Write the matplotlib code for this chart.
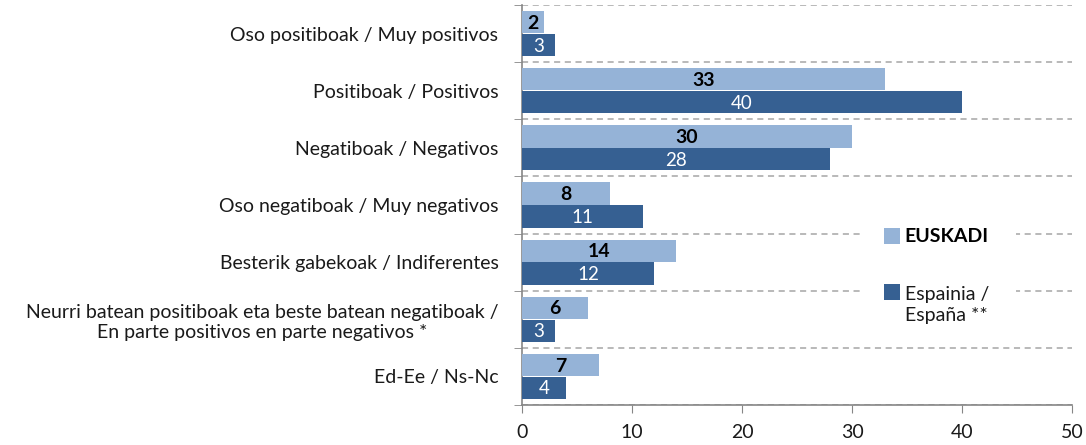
import matplotlib.pyplot as plt
from matplotlib.patches import Rectangle
import numpy as np

categories = [
    "Oso positiboak / Muy positivos",
    "Positiboak / Positivos",
    "Negatiboak / Negativos",
    "Oso negatiboak / Muy negativos",
    "Besterik gabekoak / Indiferentes",
    "Neurri batean positiboak eta beste batean negatiboak /\nEn parte positivos en parte negativos *",
    "Ed-Ee / Ns-Nc",
]
euskadi = [2, 33, 30, 8, 14, 6, 7]
espana = [3, 40, 28, 11, 12, 3, 4]
series_names = ["EUSKADI", "Espainia /\nEspaña **"]

light = "#95b3d7"
dark = "#366092"
axis_grey = "#868686"
text_col = "#1a1a1a"

plt.rcParams["font.family"] = ["Lato", "DejaVu Sans"]

fig = plt.figure(figsize=(10.86, 4.45), dpi=100)
ax = fig.add_axes([0.4807, 0.0899, 0.5064, 0.8989])

y = np.arange(len(categories))
h = 0.39
b1 = ax.barh(y - 0.2, euskadi, height=h, color=light, zorder=3)
b2 = ax.barh(y + 0.2, espana, height=h, color=dark, zorder=3)

for bar, v in zip(b1, euskadi):
    ax.text(bar.get_width() / 2, bar.get_y() + bar.get_height() / 2 + 0.02, str(v),
            ha="center", va="center", fontsize=14, fontweight="bold", color="black", zorder=4)
for bar, v in zip(b2, espana):
    ax.text(bar.get_width() / 2, bar.get_y() + bar.get_height() / 2 + 0.02, str(v),
            ha="center", va="center", fontsize=13.5, color="white", zorder=4)

ax.set_xlim(0, 50)
ax.set_ylim(len(categories) - 0.5, -0.5)
ax.set_xticks(range(0, 51, 10))
ax.set_yticks(y)
ax.set_yticklabels(categories, fontsize=14, color=text_col, ha="right", multialignment="center")
ax.tick_params(axis="y", which="major", length=0, pad=17)
ax.set_yticks(np.arange(-0.5, len(categories), 1), minor=True)
ax.tick_params(axis="y", which="minor", length=6, color=axis_grey)
ax.tick_params(axis="x", length=6, color=axis_grey, labelsize=14, labelcolor=text_col, pad=8)
ax.grid(axis="y", which="minor", linestyle=(0, (4, 3)), color="#a6a6a6", linewidth=1.1, zorder=1)

for s in ["top", "right"]:
    ax.spines[s].set_visible(False)
for s in ["left", "bottom"]:
    ax.spines[s].set_color(axis_grey)
    ax.spines[s].set_linewidth(1.2)

# legend drawn by hand so the entries sit on the separator lines
ax.add_patch(Rectangle((30.9, 3.25), 14.0, 2.0, facecolor="white", edgecolor="none", zorder=5))
legend_y = [3.55, 4.52]
for name, col, ly in zip(series_names, [light, dark], legend_y):
    ax.add_patch(Rectangle((32.9, ly - 0.14), 1.45, 0.28, facecolor=col, edgecolor="none", zorder=6))
n0 = series_names[0]
ax.text(34.8, legend_y[0], n0, ha="left", va="center", fontsize=14, fontweight="bold",
        color="black", zorder=6)
ax.text(34.8, legend_y[1] + 0.23, series_names[1], ha="left", va="center", fontsize=14,
        color=text_col, linespacing=1.35, zorder=6)

fig.savefig("out.png", dpi=100)
